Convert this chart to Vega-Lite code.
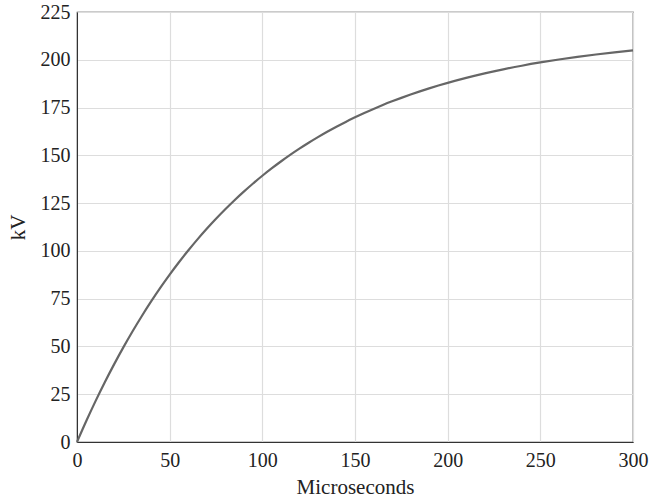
{
  "$schema": "https://vega.github.io/schema/vega-lite/v6.json",
  "width": 556,
  "height": 430,
  "autosize": {"type": "none"},
  "padding": {"left": 77, "top": 12, "right": 17, "bottom": 58},
  "background": "white",
  "config": {
    "view": {"stroke": "#333333", "strokeWidth": 1.2},
    "font": "Liberation Serif",
    "axis": {
      "labelFont": "Liberation Serif",
      "titleFont": "Liberation Serif",
      "labelFontSize": 20,
      "titleFontSize": 21,
      "labelColor": "#222222",
      "titleColor": "#222222",
      "titleFontWeight": "normal",
      "tickSize": 0,
      "domainColor": "#333333",
      "gridColor": "#dddddd",
      "gridWidth": 1.2
    }
  },
  "data": {
    "values": [
      {"t": 0, "kv": 0}, {"t": 5, "kv": 10.97}, {"t": 10, "kv": 21.38}, {"t": 15, "kv": 31.25},
      {"t": 20, "kv": 40.62}, {"t": 25, "kv": 49.51}, {"t": 30, "kv": 57.95}, {"t": 35, "kv": 65.95},
      {"t": 40, "kv": 73.54}, {"t": 45, "kv": 80.74}, {"t": 50, "kv": 87.57}, {"t": 55, "kv": 94.05},
      {"t": 60, "kv": 100.2}, {"t": 65, "kv": 106.04}, {"t": 70, "kv": 111.57}, {"t": 75, "kv": 116.82},
      {"t": 80, "kv": 121.8}, {"t": 85, "kv": 126.53}, {"t": 90, "kv": 131.02}, {"t": 95, "kv": 135.27},
      {"t": 100, "kv": 139.31}, {"t": 105, "kv": 143.14}, {"t": 110, "kv": 146.77}, {"t": 115, "kv": 150.22},
      {"t": 120, "kv": 153.49}, {"t": 125, "kv": 156.59}, {"t": 130, "kv": 159.53}, {"t": 135, "kv": 162.33},
      {"t": 140, "kv": 164.97}, {"t": 145, "kv": 167.49}, {"t": 150, "kv": 169.87}, {"t": 155, "kv": 172.13},
      {"t": 160, "kv": 174.28}, {"t": 165, "kv": 176.32}, {"t": 170, "kv": 178.25}, {"t": 175, "kv": 180.08},
      {"t": 180, "kv": 181.82}, {"t": 185, "kv": 183.47}, {"t": 190, "kv": 185.04}, {"t": 195, "kv": 186.52},
      {"t": 200, "kv": 187.93}, {"t": 210, "kv": 190.53}, {"t": 220, "kv": 192.88}, {"t": 230, "kv": 194.99},
      {"t": 240, "kv": 196.89}, {"t": 250, "kv": 198.6}, {"t": 260, "kv": 200.13}, {"t": 270, "kv": 201.52},
      {"t": 280, "kv": 202.77}, {"t": 290, "kv": 203.89}, {"t": 300, "kv": 204.9}
    ]
  },
  "mark": {"type": "line", "color": "#666666", "strokeWidth": 2.2, "interpolate": "monotone"},
  "encoding": {
    "x": {
      "field": "t",
      "type": "quantitative",
      "title": "Microseconds",
      "scale": {"domain": [0, 300], "nice": false},
      "axis": {"values": [0, 50, 100, 150, 200, 250, 300], "labelPadding": 8, "titlePadding": 6, "labelFlush": false}
    },
    "y": {
      "field": "kv",
      "type": "quantitative",
      "title": "kV",
      "scale": {"domain": [0, 225], "nice": false},
      "axis": {"values": [0, 25, 50, 75, 100, 125, 150, 175, 200, 225], "labelPadding": 7, "titlePadding": 12, "labelFlush": false}
    }
  }
}
